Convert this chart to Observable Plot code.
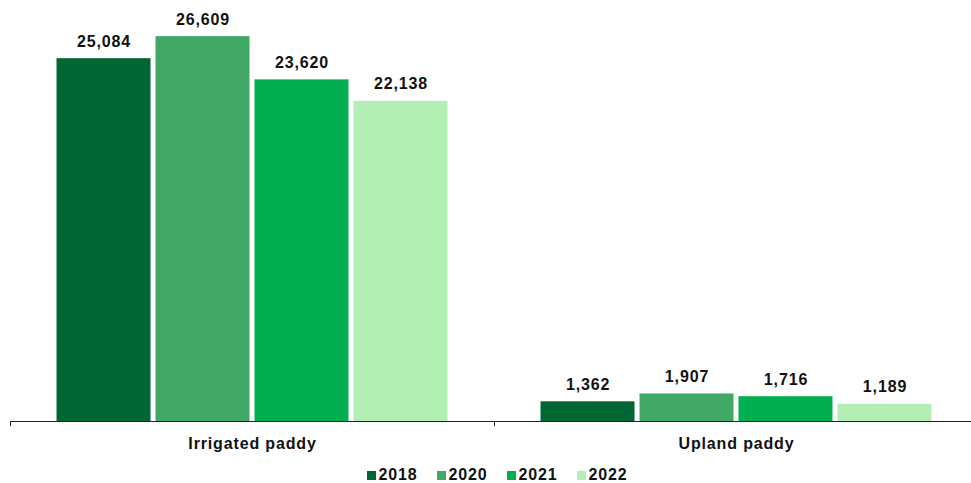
<!DOCTYPE html>
<html>
<head>
<meta charset="utf-8">
<script src="https://cdn.jsdelivr.net/npm/d3@7"></script>
<script src="https://cdn.jsdelivr.net/npm/@observablehq/plot@0.6"></script>
<style>
  html, body { margin: 0; padding: 0; background: #fff; overflow: hidden; }
  #chart { width: 971px; font-family: "Liberation Sans", Arial, sans-serif; letter-spacing: 0.85px; }
  #chart svg { display: block; letter-spacing: 0.85px; }
  .legend { display: flex; justify-content: center; align-items: center; padding-left: 23px; margin-top: 9px; height: 16px; line-height: 16px;
            font: bold 16px "Liberation Sans", Arial, sans-serif; letter-spacing: 0.85px; color: #111; }
  .legend .item { display: flex; align-items: center; margin-right: 19px; height: 16px; }
  .legend .item:last-child { margin-right: 0; }
  .legend .sw { width: 9px; height: 9px; margin-right: 3px; }
</style>
</head>
<body>
<div id="chart"></div>
<script>
const categories = ["Irrigated paddy", "Upland paddy"];
const years = ["2018", "2020", "2021", "2022"];
const irrigatedValues = [25084, 26609, 23620, 22138];
const uplandValues = [1362, 1907, 1716, 1189];
const colors = ["#006633", "#42A865", "#00B050", "#B3EFB4"];

const seriesByCategory = [irrigatedValues, uplandValues];
const data = [];
categories.forEach((cat, ci) => {
  years.forEach((year, yi) => data.push({cat, year, value: seriesByCategory[ci][yi]}));
});

const fmt = d3.format(",");

const chart = Plot.plot({
  width: 971,
  height: 458,
  marginLeft: 10,
  marginRight: 0,
  marginTop: 16,
  marginBottom: 37,
  style: {fontFamily: '"Liberation Sans", Arial, sans-serif', fontSize: "16px", color: "#111", background: "#fff"},
  facet: {data, x: "cat"},
  fx: {domain: categories, range: [10, 978], paddingInner: 0, paddingOuter: 0, round: false, axis: null, label: null},
  x: {domain: years, paddingInner: 5 / 99, paddingOuter: 0.47, round: false, axis: null, label: null},
  y: {domain: [0, 28000], axis: null, label: null},
  color: {domain: years, range: colors},
  marks: [
    Plot.barY(data, {x: "year", y: "value", fill: "year"}),
    Plot.text(data, {x: "year", y: "value", text: d => fmt(d.value), dy: -17, fontWeight: "bold", fontSize: 16, fill: "#111"}),
    Plot.text(data, {filter: d => d.year === years[0], text: "cat", frameAnchor: "bottom", dy: 27, fontWeight: "bold", fontSize: 16, fill: "#111"}),
    Plot.ruleY([0], {stroke: "#222", strokeWidth: 1})
  ]
});
document.getElementById("chart").appendChild(chart);

// boundary ticks on the category axis, from the fx scale
try {
  const fx = chart.scale("fx");
  const y = chart.scale("y");
  const [r0, r1] = fx.range;
  const step = (r1 - r0) / fx.domain.length;
  const y0 = y.apply ? y.apply(0) : y.range[0];
  const svg = d3.select(chart);
  for (let i = 0; i <= fx.domain.length; i++) {
    const xx = Math.round(r0 + i * step) + 0.5;
    svg.append("line").attr("x1", xx).attr("x2", xx).attr("y1", y0).attr("y2", y0 + 5)
      .attr("stroke", "#222").attr("stroke-width", 1);
  }
} catch (e) { console.error(e); }

// legend below the chart
const legend = d3.select("#chart").append("div").attr("class", "legend");
years.forEach((yr, i) => {
  const it = legend.append("div").attr("class", "item");
  it.append("div").attr("class", "sw").style("background", colors[i]);
  it.append("span").text(yr);
});
</script>
</body>
</html>
